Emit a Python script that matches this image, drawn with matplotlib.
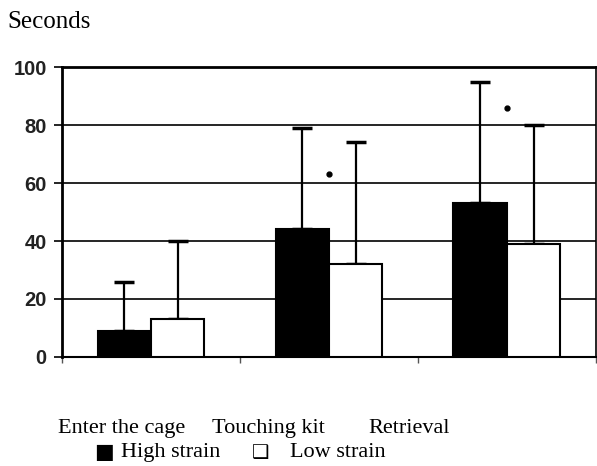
import matplotlib
matplotlib.use("Agg")
import matplotlib.pyplot as plt
import numpy as np

# data
categories = ["Enter the cage", "Touching kit", "Retrieval"]
high_strain = [9, 44, 53]
low_strain = [13, 32, 39]
high_sd = [17, 35, 42]
low_sd = [27, 42, 41]
star_y = [None, 63, 86]

serif = ["Liberation Serif", "DejaVu Serif", "DejaVu Sans"]

fig = plt.figure(figsize=(5.97, 4.66), dpi=100)
ax = fig.add_axes([0.104, 0.234, 0.894, 0.622])

x = np.arange(len(categories))
w = 0.3
ax.bar(x - w / 2, high_strain, w, color="black", edgecolor="black", linewidth=1.5, zorder=3)
ax.bar(x + w / 2, low_strain, w, color="white", edgecolor="black", linewidth=1.5, zorder=3)
ax.errorbar(x - w / 2, high_strain, yerr=[np.zeros(3), high_sd], fmt="none",
            ecolor="black", elinewidth=1.6, capsize=7, capthick=2.5, zorder=2)
ax.errorbar(x + w / 2, low_strain, yerr=[np.zeros(3), low_sd], fmt="none",
            ecolor="black", elinewidth=1.6, capsize=7, capthick=2.5, zorder=2)

for i, s in enumerate(star_y):
    if s is not None:
        ax.plot(i, s, marker="o", markersize=3.5, color="black", zorder=4)

ax.set_xlim(-0.5, 2.5)
ax.set_ylim(0, 100)
ax.set_yticks([0, 20, 40, 60, 80, 100])
ax.set_xticks([-0.5, 0.5, 1.5, 2.5])
ax.set_xticklabels([])
ax.tick_params(axis="x", direction="out", length=4, width=1, color="#555555")
ax.tick_params(axis="y", direction="out", length=6, width=1.2, pad=5)
for lab in ax.get_yticklabels():
    lab.set_fontfamily("Liberation Sans")
    lab.set_fontweight("bold")
    lab.set_fontsize(14.5)
    lab.set_color("#222222")
ax.yaxis.grid(True, color="black", linewidth=1.2, zorder=1)
ax.set_axisbelow(True)
ax.spines["left"].set_linewidth(2)
ax.spines["top"].set_linewidth(2)
ax.spines["bottom"].set_linewidth(1.5)
ax.spines["right"].set_linewidth(1.2)

fig.text(0.013, 0.953, "Seconds", family=serif, fontsize=18, va="center")

label_x = [0.203, 0.450, 0.685]
for lx, c in zip(label_x, categories):
    fig.text(lx, 0.080, c, family=serif, fontsize=16, ha="center", va="center")
fig.text(0.157, 0.030, "\u25a0", family=["DejaVu Sans"], fontsize=15, va="center")
fig.text(0.202, 0.028, "High strain", family=serif, fontsize=16, va="center")
fig.text(0.422, 0.030, "\u2751", family=["DejaVu Sans"], fontsize=14, va="center")
fig.text(0.485, 0.028, "Low strain", family=serif, fontsize=16, va="center")

fig.savefig("out.png", dpi=100)
